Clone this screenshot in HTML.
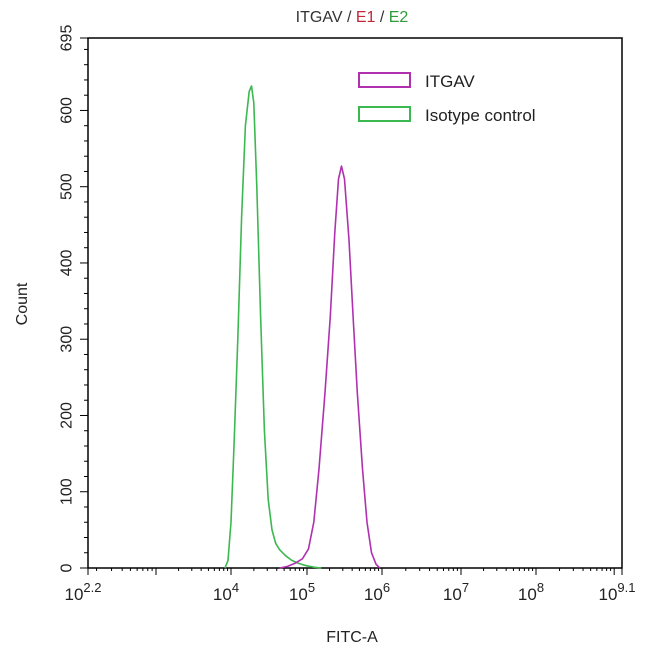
<!DOCTYPE html>
<html><head><meta charset="utf-8"><style>
body{margin:0;background:#fff}
svg text{font-family:"Liberation Sans",Arial,sans-serif;fill:#222}
</style></head><body>
<svg id="c" width="650" height="656" viewBox="0 0 650 656">
<text x="352" y="22" text-anchor="middle" font-size="16"><tspan fill="#333">ITGAV / </tspan><tspan style="fill:#c0283a">E1</tspan><tspan fill="#333"> / </tspan><tspan style="fill:#2e9a3a">E2</tspan></text>
<g id="axes"></g>
<g id="series"></g>
<g>
<rect x="359" y="73" width="51" height="14" fill="none" stroke="#b030b0" stroke-width="2"/>
<text x="425" y="87" font-size="17">ITGAV</text>
<rect x="359" y="107" width="51" height="14" fill="none" stroke="#3cb850" stroke-width="2"/>
<text x="425" y="121" font-size="17">Isotype control</text>
</g>
<text x="27" y="304" font-size="16" text-anchor="middle" transform="rotate(-90 27 304)">Count</text>
<text x="352" y="642" font-size="16" text-anchor="middle">FITC-A</text>
</svg>
<script>
const yTicks=[0,100,200,300,400,500,600,695];
const xTickExps=["2.2","4","5","6","7","8","9.1"];
const greenLog=[3.92,3.96,4.00,4.04,4.09,4.14,4.19,4.24,4.27,4.30,4.34,4.39,4.44,4.49,4.54,4.59,4.64,4.72,4.80,4.89,4.99,5.09,5.19];
const greenCount=[0,10,60,160,300,460,580,625,632,610,500,330,180,90,50,32,24,16,10,6,3,1,0];
const magLog=[4.64,4.74,4.84,4.94,5.02,5.09,5.16,5.24,5.31,5.37,5.42,5.46,5.50,5.56,5.62,5.67,5.74,5.80,5.86,5.92,5.97];
const magCount=[0,2,6,12,25,60,130,230,330,440,510,527,510,430,320,230,130,60,20,5,0];
const axDec=[2.2,3,4,5,6,7,8,9.1];
const axPx=[88,156,231,307,382,461,536,622];
const L=88,R=622,T=38,B=568,ymax=695;
function xs(v){for(let i=0;i<axDec.length-1;i++){if(v<=axDec[i+1]||i===axDec.length-2){return axPx[i]+(v-axDec[i])/(axDec[i+1]-axDec[i])*(axPx[i+1]-axPx[i]);}}}
const ys=v=>B-v/ymax*(B-T);
const NS="http://www.w3.org/2000/svg";
function mk(tag,attrs,parent){const e=document.createElementNS(NS,tag);for(const k in attrs)e.setAttribute(k,attrs[k]);parent.appendChild(e);return e;}
const ax=document.getElementById('axes');
const frame=mk('rect',{x:L,y:T,width:R-L,height:B-T,fill:'none',stroke:'#000','stroke-width':1.5},ax);


for(let v=0;v<=ymax;v+=20){const major=yTicks.includes(v);mk('line',{x1:L-(major?8:4),x2:L,y1:ys(v),y2:ys(v),stroke:'#000'},ax);}
mk('line',{x1:L-8,x2:L,y1:ys(695),y2:ys(695),stroke:'#000'},ax);
yTicks.forEach(v=>{const t=mk('text',{x:0,y:0,'font-size':16,'text-anchor':'middle',transform:`translate(${L-22},${ys(v)}) rotate(-90)`,dy:'0.35em'},ax);t.textContent=v;

});
mk('line',{x1:L,x2:L,y1:B,y2:B+7,stroke:'#000'},ax);
mk('line',{x1:R,x2:R,y1:B,y2:B+7,stroke:'#000'},ax);
for(let d=2;d<=9;d++){for(let m=1;m<=9;m++){const lv=d+Math.log10(m);if(lv<2.2||lv>9.1)continue;mk('line',{x1:xs(lv),x2:xs(lv),y1:B,y2:B+(m===1?7:3),stroke:'#000'},ax);}}
xTickExps.forEach(e=>{const x=xs(parseFloat(e));const t=mk('text',{x:x-5,y:B+32,'font-size':17,'text-anchor':'middle'},ax);t.textContent='10';const s=mk('tspan',{dy:-8,'font-size':13},t);s.textContent=e;

});
const sg=document.getElementById('series');
function line(xa,ya,color,name){const d=xa.map((v,i)=>(i?'L':'M')+xs(v).toFixed(1)+','+ys(ya[i]).toFixed(1)).join('');
const p=mk('path',{d:d,fill:'none',stroke:color,'stroke-width':1.6,'stroke-linejoin':'round'},sg);

}
line(greenLog,greenCount,'#3cb850','isotype-control-curve');
line(magLog,magCount,'#b030b0','itgav-curve');
</script>
</body></html>
